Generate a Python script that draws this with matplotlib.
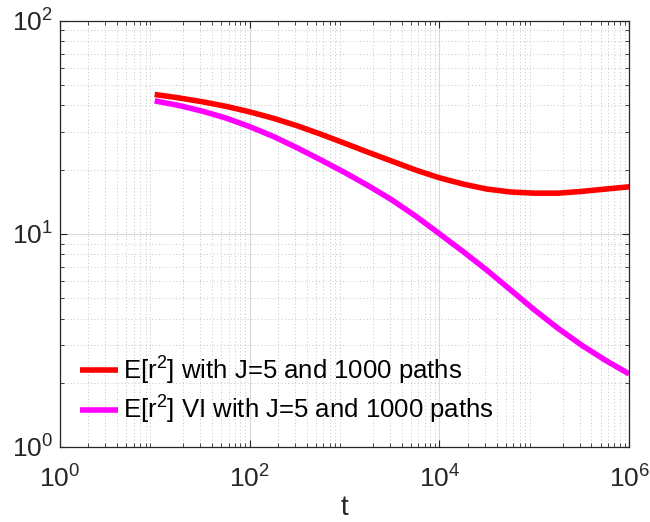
import matplotlib
matplotlib.use('Agg')
import matplotlib.pyplot as plt

plt.rcParams['font.family'] = ['Liberation Sans', 'DejaVu Sans']
plt.rcParams['mathtext.default'] = 'regular'
plt.rcParams['mathtext.fontset'] = 'custom'
plt.rcParams['mathtext.rm'] = 'Liberation Sans'
plt.rcParams['mathtext.it'] = 'Liberation Sans'

# значения (t по логарифмической сетке)
t_vals = [1e1, 10**1.25, 10**1.5, 10**1.75, 1e2, 10**2.25, 10**2.5, 10**2.75, 1e3, 10**3.25, 10**3.5,
          10**3.75, 1e4, 10**4.25, 10**4.5, 10**4.75, 1e5, 10**5.25, 10**5.5, 10**5.75, 1e6]
r2_plain = [45, 43.4, 41.6, 39.6, 37.3, 34.8, 32.1, 29.3, 26.6, 24.1, 21.9,
            19.9, 18.3, 17.1, 16.2, 15.7, 15.5, 15.5, 15.8, 16.2, 16.6]
r2_vi = [42, 40, 37.6, 34.9, 31.8, 28.6, 25.3, 22.2, 19.4, 16.8, 14.4,
         12.1, 10.0, 8.25, 6.75, 5.45, 4.4, 3.6, 3.0, 2.55, 2.2]
labels = ['E[r$^2$] with J=5 and 1000 paths', 'E[r$^2$] VI with J=5 and 1000 paths']

fig = plt.figure(figsize=(6.5, 5.22), dpi=100)
ax = fig.add_axes([0.092, 0.1437, 0.876, 0.817])

ax.loglog(t_vals, r2_plain, color='#ff0000', lw=4, label=labels[0], solid_capstyle='butt')
ax.loglog(t_vals, r2_vi, color='#ff00ff', lw=4, label=labels[1], solid_capstyle='butt')

ax.set_xlim(1, 1e6)
ax.set_ylim(1, 100)
ax.set_xticks([1, 1e2, 1e4, 1e6])
ax.set_yticks([1, 10, 100])

# сетка в стиле matlab
ax.grid(True, which='major', color='#d9d9d9', lw=0.8, ls='-')
ax.grid(True, which='minor', color='#c4c4c4', lw=0.7, ls=(0, (1, 2.5)))
ax.set_axisbelow(True)

dark = '#262626'
for s in ax.spines.values():
    s.set_color(dark)
    s.set_linewidth(0.9)
ax.tick_params(which='both', direction='in', top=True, right=True, colors=dark, labelsize=19)
ax.tick_params(which='major', length=5)
ax.tick_params(which='minor', length=3)
ax.tick_params(axis='x', pad=13)
ax.tick_params(axis='y', pad=5)
ax.set_xlabel('t', fontsize=20, color=dark, labelpad=2)

leg = ax.legend(loc='lower left', frameon=False, fontsize=18.5, handlelength=1.45,
                handletextpad=0.2, borderaxespad=0.4, labelspacing=0.3)
for txt in leg.get_texts():
    txt.set_color('black')

fig.savefig('out.png', dpi=100)
